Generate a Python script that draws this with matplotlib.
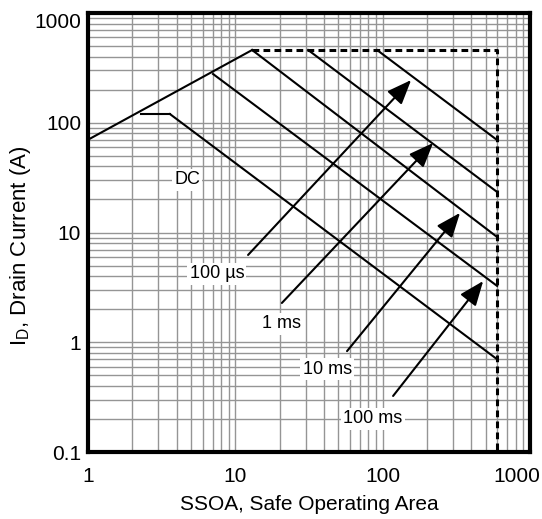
import matplotlib
matplotlib.use("Agg")
import matplotlib.pyplot as plt
import matplotlib.transforms as mtransforms
from matplotlib.ticker import NullFormatter

plt.rcParams['font.family'] = ['Liberation Sans', 'DejaVu Sans']
plt.rcParams['mathtext.fontset'] = 'custom'
plt.rcParams['mathtext.rm'] = 'Liberation Sans'

# RDS(on) limit line
rds_v = [1, 13]
rds_i = [70, 460]

# package / breakdown boundary (dashed)
bound_v = [13, 598, 598]
bound_i = [460, 460, 0.1]

# pulse lines: start point -> end on the voltage boundary
pulse_names = ['100 µs', '1 ms', '10 ms', '100 ms', 'DC']
pulse_v0 = [91.6, 31.2, 13, 7.06, 3.6]
pulse_i0 = [460, 460, 460, 278, 120]
pulse_v1 = [598, 598, 598, 598, 598]
pulse_i1 = [69.6, 23.4, 9.1, 3.26, 0.70]

# DC thermal flat section
dc_flat_v = [2.3, 3.6]
dc_flat_i = [120, 120]

# label positions and arrows (tail -> head)
label_v = [7.5, 20.7, 42, 86, 4.7]
label_i = [4.19, 1.47, 0.57, 0.2, 30.1]
arrow_tail_v = [12.2, 20.7, 57.3, 117.7]
arrow_tail_i = [6.24, 2.28, 0.83, 0.324]
arrow_head_v = [156, 220, 335, 481]
arrow_head_i = [245, 65.4, 15.1, 3.61]

xticks = [1, 10, 100, 1000]
yticks = [0.1, 1, 10, 100, 1000]

fig = plt.figure(figsize=(5.42, 5.19), dpi=100)
ax = fig.add_axes([88 / 542, 1 - 452 / 519, 442 / 542, 439 / 519])
ax.set_xscale('log')
ax.set_yscale('log')
ax.set_xlim(1, 1000)
ax.set_ylim(0.1, 1000)

ax.grid(True, which='both', color='#959595', lw=1.0)
ax.set_axisbelow(True)

ax.plot(rds_v, rds_i, color='black', lw=1.5)
ax.plot(dc_flat_v, dc_flat_i, color='black', lw=1.5)
ax.plot(bound_v, bound_i, color='black', lw=2.2, ls=(0, (2.2, 1.4)))
for v0, i0, v1, i1 in zip(pulse_v0, pulse_i0, pulse_v1, pulse_i1):
    ax.plot([v0, v1], [i0, i1], color='black', lw=1.5)

for tv, ti, hv, hi in zip(arrow_tail_v, arrow_tail_i, arrow_head_v, arrow_head_i):
    ax.annotate('', xy=(hv, hi), xytext=(tv, ti),
                arrowprops=dict(arrowstyle='-|>,head_length=1.0,head_width=0.4',
                                mutation_scale=15, color='black', lw=1.5,
                                shrinkA=0, shrinkB=0))

for name, lv, li in zip(pulse_names, label_v, label_i):
    ax.text(lv, li, name, fontsize=13, ha='center', va='center', zorder=5,
            bbox=dict(facecolor='white', edgecolor='none', pad=1.5))

ax.set_xticks(xticks)
ax.set_xticklabels(['1', '10', '100', '1000'])
ax.set_yticks(yticks)
ax.set_yticklabels(['0.1', '1', '10', '100', '1000'])
ax.xaxis.set_minor_formatter(NullFormatter())
ax.yaxis.set_minor_formatter(NullFormatter())
ax.tick_params(which='both', length=0, labelsize=15)
ax.tick_params(axis='x', pad=11)
ax.tick_params(axis='y', pad=5)

# keep the end labels inside the figure
lbl = ax.get_xticklabels()[-1]
lbl.set_transform(lbl.get_transform() + mtransforms.ScaledTranslation(-0.13, 0, fig.dpi_scale_trans))
lbl = ax.get_yticklabels()[-1]
lbl.set_transform(lbl.get_transform() + mtransforms.ScaledTranslation(0, -0.07, fig.dpi_scale_trans))

for s in ax.spines.values():
    s.set_linewidth(3)

ax.set_xlabel('SSOA, Safe Operating Area', fontsize=15, labelpad=6)
ax.set_ylabel(r'I$_\mathregular{D}$, Drain Current (A)', fontsize=16)
ax.yaxis.set_label_coords(-0.124, 0.47)

fig.savefig('out.png', dpi=100)
